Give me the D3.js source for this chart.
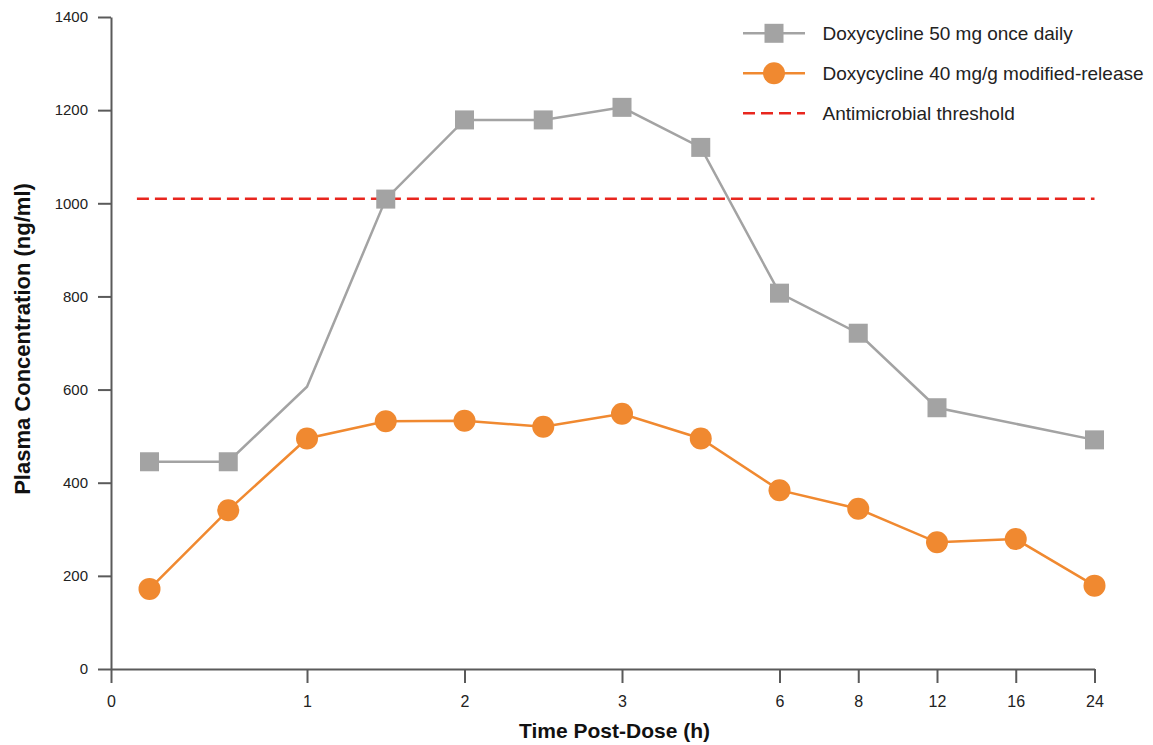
<!DOCTYPE html>
<html>
<head>
<meta charset="utf-8">
<script src="https://cdn.jsdelivr.net/npm/d3@7"></script>
<style>
  html, body { margin: 0; padding: 0; background: #fff; }
  svg { display: block; }
  text { font-family: "Liberation Sans", Arial, Helvetica, sans-serif; }
</style>
</head>
<body>
<svg id="chart" width="1153" height="745"></svg>
<script>
// ---- data ----
const timePoints = ["0.25", "0.5", "1", "1.5", "2", "2.5", "3", "4", "6", "8", "12", "16", "24"];
const dose50 = [445, 445, 606, 1009, 1179, 1179, 1206, 1120, 807, 721, 561, null, 492];
const dose50Marker = [true, true, false, true, true, true, true, true, true, true, true, false, true];
const dose40 = [172, 341, 495, 532, 533, 520, 548, 495, 384, 344, 272, 279, 179];
const thresholdValue = 1010;
const xTickLabels = ["0", "1", "2", "3", "6", "8", "12", "16", "24"];
const yTickValues = [0, 200, 400, 600, 800, 1000, 1200, 1400];
const seriesNames = ["Doxycycline 50 mg once daily", "Doxycycline 40 mg/g modified-release", "Antimicrobial threshold"];

// ---- style ----
const cGrey = "#a3a3a3", cOrange = "#f08930", cRed = "#e8261e", cAxis = "#5a5a5a", cText = "#222";

const svg = d3.select("#chart");
svg.append("rect").attr("width", 1153).attr("height", 745).attr("fill", "#fff");

const originIdx = -0.489;
const x = d3.scaleLinear().domain([originIdx, timePoints.length - 1]).range([111, 1094.5]);
const y = d3.scaleLinear().domain([0, 1400]).range([669, 17]);

// tick index positions: "0" -> axis origin, others -> matching time category
const xTickPos = xTickLabels.map(l => l === "0" ? originIdx : timePoints.indexOf(l));

// x axis
const xAxis = d3.axisBottom(x)
  .tickValues(xTickPos)
  .tickFormat((d, i) => xTickLabels[i])
  .tickSize(14).tickSizeOuter(0).tickPadding(10);
const gx = svg.append("g").attr("transform", `translate(0,${y(0)})`).call(xAxis)
  .attr("font-size", 16).attr("font-family", "Liberation Sans, Arial, sans-serif");
gx.select(".domain").attr("stroke", cAxis).attr("stroke-width", 2);
gx.selectAll(".tick line").attr("stroke", cAxis).attr("stroke-width", 2);
gx.selectAll(".tick text").attr("fill", cText).style("font-size", "16px").attr("dy", "0.85em");

// y axis
const yAxis = d3.axisLeft(y).tickValues(yTickValues).tickFormat(d3.format("d"))
  .tickSize(13).tickSizeOuter(0).tickPadding(10);
const gy = svg.append("g").attr("transform", `translate(${x(originIdx)},0)`).call(yAxis)
  .attr("font-size", 15).attr("font-family", "Liberation Sans, Arial, sans-serif");
gy.select(".domain").attr("stroke", cAxis).attr("stroke-width", 2);
gy.selectAll(".tick line").attr("stroke", cAxis).attr("stroke-width", 2);
gy.selectAll(".tick text").attr("fill", cText).style("font-size", "15px");

// axis titles
svg.append("text").attr("x", 614.5).attr("y", 737.5).attr("text-anchor", "middle")
  .style("font-size", "21px").style("font-weight", "bold").attr("fill", "#111")
  .text("Time Post-Dose (h)");
svg.append("text").attr("transform", "translate(30,339) rotate(-90)").attr("text-anchor", "middle")
  .style("font-size", "22px").style("font-weight", "bold").attr("fill", "#111")
  .text("Plasma Concentration (ng/ml)");

// threshold line
svg.append("line")
  .attr("x1", x(-0.16)).attr("x2", x(timePoints.length - 1))
  .attr("y1", y(thresholdValue)).attr("y2", y(thresholdValue))
  .attr("stroke", cRed).attr("stroke-width", 2.5).attr("stroke-dasharray", "12,6");

// series lines
const line = d3.line().x(d => x(d.i)).y(d => y(d.v));
const s50 = dose50.map((v, i) => ({ i, v, m: dose50Marker[i] })).filter(d => d.v != null);
const s40 = dose40.map((v, i) => ({ i, v }));

svg.append("path").datum(s50).attr("d", line).attr("fill", "none")
  .attr("stroke", cGrey).attr("stroke-width", 2.5);
svg.append("path").datum(s40).attr("d", line).attr("fill", "none")
  .attr("stroke", cOrange).attr("stroke-width", 2.5);

// markers
const sq = 19;
svg.append("g").selectAll("rect").data(s50.filter(d => d.m)).join("rect")
  .attr("x", d => x(d.i) - sq / 2).attr("y", d => y(d.v) - sq / 2)
  .attr("width", sq).attr("height", sq).attr("fill", cGrey);
svg.append("g").selectAll("circle").data(s40).join("circle")
  .attr("cx", d => x(d.i)).attr("cy", d => y(d.v)).attr("r", 11).attr("fill", cOrange);

// legend
const lg = svg.append("g");
const rows = [33.3, 73.3, 113.3];
const lx1 = 743, lx2 = 805, lmid = 774;
lg.append("line").attr("x1", lx1).attr("x2", lx2).attr("y1", rows[0]).attr("y2", rows[0])
  .attr("stroke", cGrey).attr("stroke-width", 2.5);
lg.append("rect").attr("x", lmid - sq / 2).attr("y", rows[0] - sq / 2).attr("width", sq).attr("height", sq).attr("fill", cGrey);
lg.append("line").attr("x1", lx1).attr("x2", lx2).attr("y1", rows[1]).attr("y2", rows[1])
  .attr("stroke", cOrange).attr("stroke-width", 2.5);
lg.append("circle").attr("cx", lmid).attr("cy", rows[1]).attr("r", 11).attr("fill", cOrange);
lg.append("line").attr("x1", lx1).attr("x2", lx2).attr("y1", rows[2]).attr("y2", rows[2])
  .attr("stroke", cRed).attr("stroke-width", 2.5).attr("stroke-dasharray", "12,6");
seriesNames.forEach((n, i) => {
  lg.append("text").attr("x", 822.5).attr("y", rows[i] + 6.3)
    .style("font-size", "19px").attr("fill", cText).text(n);
});
</script>
</body>
</html>
